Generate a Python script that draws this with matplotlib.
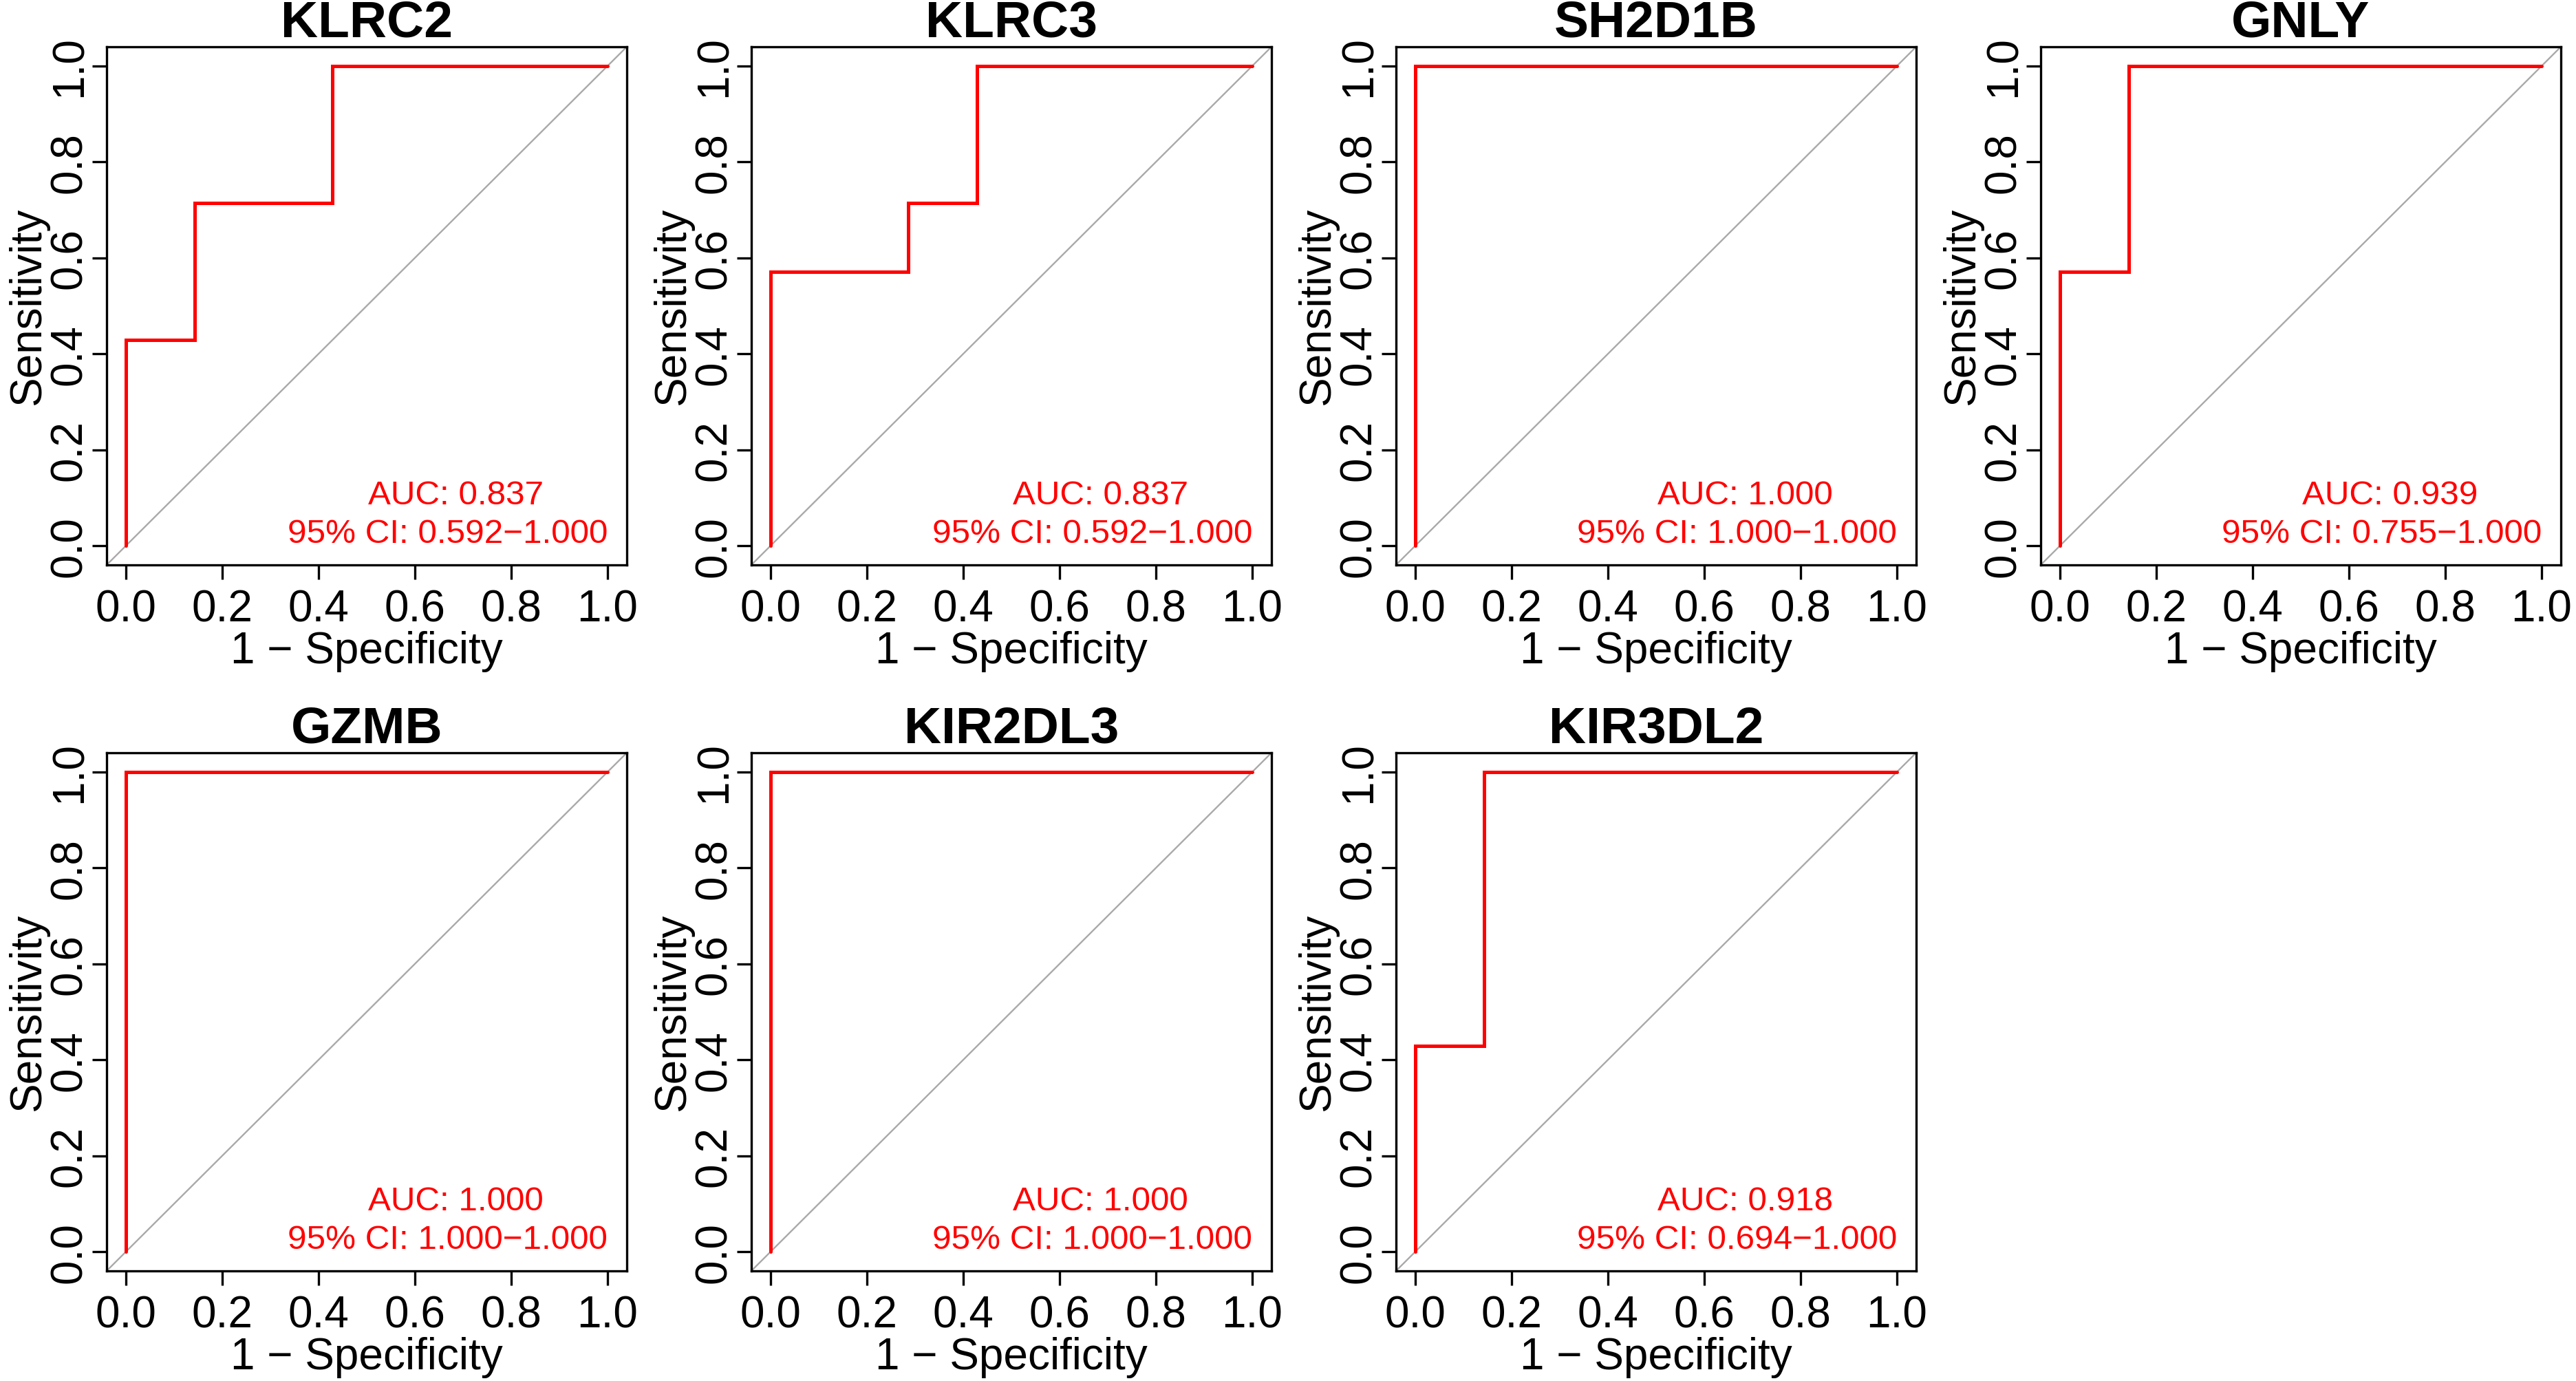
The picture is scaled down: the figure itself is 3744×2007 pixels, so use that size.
import matplotlib.pyplot as plt

plt.rcParams["font.family"] = ["Liberation Sans", "DejaVu Sans"]

# curvas ROC (1 - especificidade, sensibilidade)
genes = ["KLRC2", "KLRC3", "SH2D1B", "GNLY", "GZMB", "KIR2DL3", "KIR3DL2"]

klrc2_fpr = [0, 0, 0.143, 0.143, 0.429, 0.429, 1]
klrc2_tpr = [0, 0.429, 0.429, 0.714, 0.714, 1, 1]
klrc3_fpr = [0, 0, 0.286, 0.286, 0.429, 0.429, 1]
klrc3_tpr = [0, 0.571, 0.571, 0.714, 0.714, 1, 1]
sh2d1b_fpr = [0, 0, 1]
sh2d1b_tpr = [0, 1, 1]
gnly_fpr = [0, 0, 0.143, 0.143, 1]
gnly_tpr = [0, 0.571, 0.571, 1, 1]
gzmb_fpr = [0, 0, 1]
gzmb_tpr = [0, 1, 1]
kir2dl3_fpr = [0, 0, 1]
kir2dl3_tpr = [0, 1, 1]
kir3dl2_fpr = [0, 0, 0.143, 0.143, 1]
kir3dl2_tpr = [0, 0.429, 0.429, 1, 1]

fprs = [klrc2_fpr, klrc3_fpr, sh2d1b_fpr, gnly_fpr, gzmb_fpr, kir2dl3_fpr, kir3dl2_fpr]
tprs = [klrc2_tpr, klrc3_tpr, sh2d1b_tpr, gnly_tpr, gzmb_tpr, kir2dl3_tpr, kir3dl2_tpr]

auc = [0.837, 0.837, 1.000, 0.939, 1.000, 1.000, 0.918]
ci_low = [0.592, 0.592, 1.000, 0.755, 1.000, 1.000, 0.694]
ci_high = [1.000, 1.000, 1.000, 1.000, 1.000, 1.000, 1.000]

ticks = [0.0, 0.2, 0.4, 0.6, 0.8, 1.0]
tick_labels = ["0.0", "0.2", "0.4", "0.6", "0.8", "1.0"]

W, H = 3744, 2008
fig = plt.figure(figsize=(W / 200, H / 200), dpi=200)

for i, gene in enumerate(genes):
    linha, col = divmod(i, 4)
    left = (155 + 937 * col) / W
    bottom = (2008 - 822) / H if linha == 0 else (2008 - 1848) / H
    ax = fig.add_axes([left, bottom, 756 / W, 753 / H])

    ax.axline((0, 0), slope=1, color="#A9A9A9", lw=0.85)
    ax.plot(fprs[i], tprs[i], color="red", lw=1.8, solid_capstyle="round",
            solid_joinstyle="miter")

    ax.text(0.685, 0.105, f"AUC: {auc[i]:.3f}", color="red", fontsize=17.8,
            ha="center", va="center")
    ax.text(1.0, 0.025, f"95% CI: {ci_low[i]:.3f}\u2212{ci_high[i]:.3f}",
            color="red", fontsize=17.8, ha="right", va="center")

    ax.set_xlim(-0.04, 1.04)
    ax.set_ylim(-0.04, 1.04)
    ax.set_xticks(ticks)
    ax.set_xticklabels(tick_labels)
    ax.set_yticks(ticks)
    ax.set_yticklabels(tick_labels, rotation=90, va="center")
    ax.tick_params(labelsize=23, length=7.5, width=1.2, pad=5)
    ax.tick_params(axis="y", pad=1)
    for s in ax.spines.values():
        s.set_linewidth(1.2)

    ax.set_title(gene, fontsize=27, fontweight="bold", pad=4)
    ax.set_xlabel("1 \u2212 Specificity", fontsize=23, labelpad=0)
    ax.set_ylabel("Sensitivity", fontsize=23, labelpad=0)

plt.savefig("out.png", dpi=200)
